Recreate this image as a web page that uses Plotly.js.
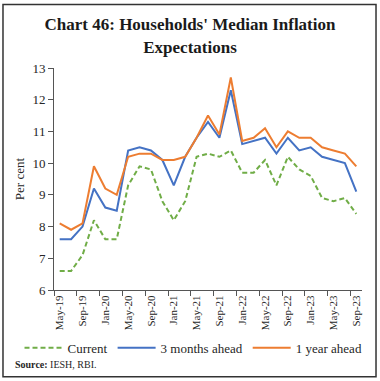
<!DOCTYPE html>
<html>
<head>
<meta charset="utf-8">
<script src="https://cdn.plot.ly/plotly-3.0.1.min.js"></script>
<style>
  html, body { margin: 0; padding: 0; background: #fff; }
  #chart { width: 380px; height: 381px; }
</style>
</head>
<body>
<div id="chart"></div>
<script>
// Survey rounds (bi-monthly)
const categories = ["May-19","Jul-19","Sep-19","Nov-19","Jan-20","Mar-20","May-20","Jul-20","Sep-20","Nov-20",
  "Jan-21","Mar-21","May-21","Jul-21","Sep-21","Nov-21","Jan-22","Mar-22","May-22","Jul-22",
  "Sep-22","Nov-22","Jan-23","Mar-23","May-23","Jul-23","Sep-23"];

const current = [6.6, 6.6, 7.1, 8.2, 7.6, 7.6, 9.3, 9.9, 9.8, 8.8,
  8.2, 8.8, 10.2, 10.3, 10.2, 10.4, 9.7, 9.7, 10.1, 9.3,
  10.2, 9.8, 9.6, 8.9, 8.8, 8.9, 8.4];

const threeMonthsAhead = [7.6, 7.6, 8.0, 9.2, 8.6, 8.5, 10.4, 10.5, 10.4, 10.1,
  9.3, 10.2, 10.8, 11.3, 10.8, 12.3, 10.6, 10.7, 10.8, 10.3,
  10.8, 10.4, 10.5, 10.2, 10.1, 10.0, 9.1];

const oneYearAhead = [8.1, 7.9, 8.1, 9.9, 9.2, 9.0, 10.2, 10.3, 10.3, 10.1,
  10.1, 10.2, 10.8, 11.5, 10.9, 12.7, 10.7, 10.8, 11.1, 10.5,
  11.0, 10.8, 10.8, 10.5, 10.4, 10.3, 9.9];

const seriesNames = ["Current", "3 months ahead", "1 year ahead"];

const idx = categories.map((c, i) => i);
const labelIdx = idx.filter(i => i % 2 === 0);
const labelText = labelIdx.map(i => categories[i]);

const serif = "Liberation Serif, Times New Roman, serif";

const traces = [
  { x: idx, y: current, text: categories, name: seriesNames[0], type: "scatter", mode: "lines",
    line: { color: "#70AD47", width: 2, dash: "5px,3px" }, hovertemplate: "%{text}: %{y}<extra></extra>" },
  { x: idx, y: threeMonthsAhead, text: categories, name: seriesNames[1], type: "scatter", mode: "lines",
    line: { color: "#4472C4", width: 2 }, hovertemplate: "%{text}: %{y}<extra></extra>" },
  { x: idx, y: oneYearAhead, text: categories, name: seriesNames[2], type: "scatter", mode: "lines",
    line: { color: "#ED7D31", width: 2 }, hovertemplate: "%{text}: %{y}<extra></extra>" }
];

const layout = {
  width: 380, height: 381,
  margin: { l: 54, r: 18, t: 68, b: 91, pad: 0 },
  paper_bgcolor: "#fff", plot_bgcolor: "#fff",
  font: { family: serif, size: 12, color: "#262626" },
  title: {
    text: "<b>Chart 46: Households' Median Inflation<br>Expectations</b>",
    font: { family: serif, size: 17, color: "#1a1a1a" },
    x: 0.5, xref: "container", xanchor: "center",
    y: 0.92, yref: "container", yanchor: "middle"
  },
  showlegend: true,
  legend: {
    orientation: "h", x: -0.112, xanchor: "left", y: -0.26, yanchor: "middle",
    itemwidth: 38,
    font: { family: serif, size: 13, color: "#262626" },
    bgcolor: "rgba(0,0,0,0)", itemclick: false, itemdoubleclick: false
  },
  xaxis: {
    range: [-0.5, 26.5], fixedrange: true,
    tickmode: "array", tickvals: labelIdx, ticktext: labelText,
    tickangle: -90, tickfont: { family: serif, size: 11, color: "#262626" },
    ticks: "outside", ticklen: 0, tickcolor: "#555",
    showline: true, linecolor: "#555", linewidth: 1,
    showgrid: false, zeroline: false,
    minor: { tickmode: "linear", tick0: -0.5, dtick: 2, ticks: "outside", ticklen: 5, tickcolor: "#555", tickwidth: 1, showgrid: false }
  },
  yaxis: {
    range: [6, 13], dtick: 1, fixedrange: true,
    ticks: "outside", ticklen: 5, tickcolor: "#555",
    tickfont: { family: serif, size: 13, color: "#262626" },
    showline: true, linecolor: "#555", linewidth: 1,
    showgrid: false, zeroline: false,
    title: { text: "Per cent", font: { family: serif, size: 13, color: "#262626" }, standoff: 4 }
  },
  annotations: [{
    text: "<b>Source:</b> IESH, RBI.",
    xref: "paper", yref: "paper", x: -0.133, y: -0.337,
    xanchor: "left", yanchor: "middle", showarrow: false,
    font: { family: serif, size: 10, color: "#262626" }
  }],
  shapes: [{
    type: "rect", xref: "paper", yref: "paper",
    x0: -0.1656, x1: 1.0455, y0: -0.391, y1: 1.2865,
    line: { color: "#333", width: 1.5 }, fillcolor: "rgba(0,0,0,0)"
  }]
};

Plotly.newPlot("chart", traces, layout, { displayModeBar: false, staticPlot: true });
</script>
</body>
</html>
